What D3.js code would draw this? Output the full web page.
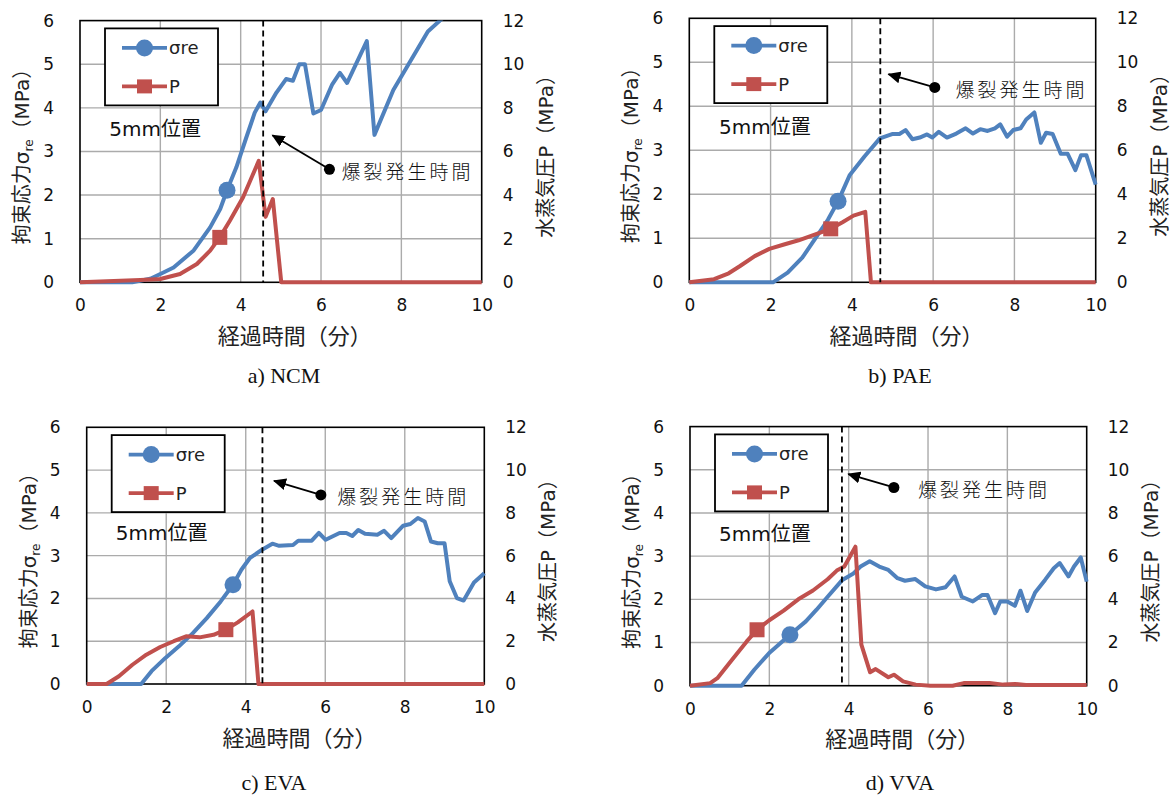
<!DOCTYPE html>
<html>
<head>
<meta charset="utf-8">
<script src="https://cdn.jsdelivr.net/npm/d3@7"></script>
<style>
  body { margin: 0; background: #fff; }
  svg { display: block; font-family: "DejaVu Sans", "Noto Sans CJK JP", sans-serif; }
</style>
</head>
<body>
<svg id="chart" width="1176" height="796"></svg>
<script>
// axis ticks
const timeTicks = [0, 2, 4, 6, 8, 10];
const stressTicks = [0, 1, 2, 3, 4, 5, 6];
const pressureTicks = [0, 2, 4, 6, 8, 10, 12];

// a) NCM  [time (min), value]
const ncmSigma = [[0,0],[1.3,0],[1.75,0.08],[2.0,0.19],[2.33,0.34],[2.83,0.73],[3.24,1.26],[3.49,1.68],[3.66,2.11],[3.89,2.63],[4.14,3.32],[4.35,3.89],[4.49,4.12],[4.62,3.92],[4.89,4.35],[5.13,4.66],[5.3,4.62],[5.46,5.0],[5.6,5.0],[5.81,3.87],[6.0,3.95],[6.28,4.54],[6.47,4.8],[6.65,4.57],[7.14,5.53],[7.33,3.38],[7.8,4.41],[8.66,5.75],[8.96,6.0],[9.2,6.2]];
const ncmP = [[0,0],[0.84,0.06],[1.5,0.1],[2.0,0.15],[2.49,0.38],[2.91,0.84],[3.24,1.45],[3.48,2.06],[3.73,2.82],[4.06,3.9],[4.45,5.57],[4.62,3.0],[4.8,3.82],[5.01,0],[10,0]];

// b) PAE
const paeSigma = [[0,0],[2.06,0],[2.42,0.22],[2.78,0.56],[3.14,1.05],[3.41,1.42],[3.66,1.84],[3.95,2.44],[4.31,2.86],[4.69,3.27],[4.99,3.37],[5.17,3.37],[5.32,3.46],[5.49,3.25],[5.67,3.29],[5.85,3.36],[5.98,3.29],[6.14,3.42],[6.34,3.29],[6.57,3.38],[6.8,3.5],[6.98,3.38],[7.16,3.48],[7.34,3.44],[7.52,3.5],[7.65,3.59],[7.82,3.31],[7.97,3.46],[8.15,3.5],[8.29,3.7],[8.49,3.86],[8.65,3.17],[8.78,3.4],[8.94,3.37],[9.14,2.92],[9.31,2.92],[9.5,2.55],[9.64,2.89],[9.77,2.89],[10,2.22]];
const paeP = [[0,0],[0.61,0.14],[0.97,0.41],[1.25,0.74],[1.61,1.19],[1.97,1.52],[2.33,1.72],[2.69,1.91],[3.05,2.14],[3.48,2.43],[3.77,2.73],[4.04,3.03],[4.33,3.2],[4.47,0],[10,0]];

// c) EVA
const evaSigma = [[0,0],[1.37,0],[1.63,0.3],[1.98,0.61],[2.32,0.88],[2.67,1.19],[3.02,1.54],[3.37,1.93],[3.68,2.32],[3.89,2.67],[4.1,2.94],[4.41,3.14],[4.67,3.28],[4.84,3.23],[5.19,3.25],[5.32,3.35],[5.66,3.35],[5.84,3.53],[6.01,3.37],[6.36,3.53],[6.53,3.53],[6.68,3.46],[6.83,3.6],[7.0,3.51],[7.31,3.49],[7.48,3.58],[7.66,3.41],[7.96,3.7],[8.14,3.74],[8.33,3.88],[8.5,3.8],[8.66,3.33],[8.83,3.29],[9.0,3.29],[9.13,2.4],[9.31,2.01],[9.48,1.95],[9.74,2.37],[10,2.59]];
const evaP = [[0,0],[0.5,0],[0.81,0.36],[1.15,0.9],[1.5,1.37],[1.85,1.73],[2.19,2.0],[2.5,2.23],[2.84,2.18],[3.19,2.3],[3.5,2.54],[3.8,2.88],[4.17,3.39],[4.32,0],[10,0]];

// d) VVA
const vvaSigma = [[0,0],[1.3,0],[1.62,0.37],[1.99,0.75],[2.52,1.18],[2.92,1.49],[3.19,1.76],[3.47,2.06],[3.84,2.45],[4.12,2.6],[4.3,2.76],[4.53,2.88],[4.77,2.76],[5.0,2.68],[5.23,2.49],[5.42,2.43],[5.68,2.47],[5.93,2.3],[6.2,2.23],[6.44,2.28],[6.67,2.53],[6.85,2.06],[7.13,1.95],[7.36,2.1],[7.5,2.1],[7.69,1.68],[7.82,1.95],[8.0,1.95],[8.19,1.85],[8.33,2.2],[8.5,1.73],[8.7,2.16],[8.95,2.45],[9.17,2.72],[9.32,2.84],[9.54,2.53],[9.68,2.76],[9.85,2.97],[10,2.41]];
const vvaP = [[0,0],[0.51,0.12],[0.69,0.35],[1.06,1.2],[1.43,2.05],[1.69,2.59],[1.99,3.02],[2.36,3.48],[2.73,4.0],[3.1,4.41],[3.47,4.93],[3.7,5.33],[3.89,5.52],[4.17,6.44],[4.32,1.9],[4.54,0.62],[4.68,0.77],[5.0,0.39],[5.14,0.51],[5.37,0.2],[5.69,0.05],[6.06,0],[6.62,0],[6.9,0.12],[7.55,0.12],[7.9,0.05],[8.2,0.08],[8.47,0.03],[10,0.03]];

// single marker point on each series [time, value]
const sigmaMarks = [[3.66,2.11],[3.66,1.84],[3.68,2.32],[2.52,1.18]];
const pMarks = [[3.48,2.06],[3.48,2.43],[3.5,2.54],[1.69,2.59]];

// burst time (min)
const burstTimes = [4.56, 4.70, 4.42, 3.83];
// annotation: dot t, dot σ, arrow tip t, arrow tip σ, text start t
const notes = [[6.21,2.59,4.79,3.37,6.51],[6.04,4.43,4.90,4.73,6.55],[5.89,4.42,4.71,4.75,6.30],[5.14,4.59,3.99,4.90,5.75]];
const captions = ["a) NCM", "b) PAE", "c) EVA", "d) VVA"];

const BLUE = "#4f81bd", RED = "#c0504d";

// plot rectangles and caption placement
const layout = [
  {l: 80,    t: 20.6,  r: 481.7,  b: 282.3, capX: 284, capY: 383},
  {l: 689.3, t: 18.3,  r: 1095.7, b: 282.3, capX: 900, capY: 383},
  {l: 86.7,  t: 427.3, r: 484.3,  b: 684,   capX: 274, capY: 790},
  {l: 690,   t: 426.6, r: 1086.7, b: 685.7, capX: 900, capY: 790}
];
const series = [[ncmSigma, ncmP], [paeSigma, paeP], [evaSigma, evaP], [vvaSigma, vvaP]];

const svg = d3.select("#chart");

svg.append("defs").append("marker")
    .attr("id", "arrow")
    .attr("markerUnits", "userSpaceOnUse")
    .attr("markerWidth", 14).attr("markerHeight", 12)
    .attr("refX", 12).attr("refY", 6)
    .attr("orient", "auto")
  .append("path")
    .attr("d", "M0,0 L13,6 L0,12 Z")
    .attr("fill", "#000");

layout.forEach((box, i) => drawPanel(box, i));

function drawPanel(box, i) {
    const x = d3.scaleLinear().domain([0, 10]).range([box.l, box.r]);
    const yL = d3.scaleLinear().domain([0, 6]).range([box.b, box.t]);
    const yR = d3.scaleLinear().domain([0, 12]).range([box.b, box.t]);
    const g = svg.append("g");

    // grid lines
    g.append("g").selectAll("line")
        .data(stressTicks.slice(1, -1))
        .enter().append("line")
        .attr("x1", box.l).attr("x2", box.r)
        .attr("y1", d => yL(d)).attr("y2", d => yL(d))
        .style("stroke", "#ababab").style("stroke-width", 1.4);
    g.append("g").selectAll("line")
        .data(timeTicks.slice(1, -1))
        .enter().append("line")
        .attr("x1", d => x(d)).attr("x2", d => x(d))
        .attr("y1", box.t).attr("y2", box.b)
        .style("stroke", "#ababab").style("stroke-width", 1.4);

    g.append("rect")
        .attr("x", box.l).attr("y", box.t)
        .attr("width", box.r - box.l).attr("height", box.b - box.t)
        .style("fill", "none").style("stroke", "#000").style("stroke-width", 1.6);

    // clip for data lines
    const clipId = "clip" + i;
    svg.select("defs").append("clipPath").attr("id", clipId)
      .append("rect")
        .attr("x", box.l - 2).attr("y", box.t)
        .attr("width", box.r - box.l + 4).attr("height", box.b - box.t + 3);

    const lineL = d3.line().x(d => x(d[0])).y(d => yL(d[1]));
    const lineR = d3.line().x(d => x(d[0])).y(d => yR(d[1]));
    const data = g.append("g").attr("clip-path", `url(#${clipId})`);

    data.append("path")
        .datum(series[i][0])
        .attr("d", lineL)
        .style("fill", "none").style("stroke", BLUE)
        .style("stroke-width", 4).style("stroke-linejoin", "round");
    data.append("circle")
        .attr("cx", x(sigmaMarks[i][0])).attr("cy", yL(sigmaMarks[i][1]))
        .attr("r", 8.5).style("fill", BLUE);

    data.append("path")
        .datum(series[i][1])
        .attr("d", lineR)
        .style("fill", "none").style("stroke", RED)
        .style("stroke-width", 4).style("stroke-linejoin", "round");
    data.append("rect")
        .attr("x", x(pMarks[i][0]) - 7.5).attr("y", yR(pMarks[i][1]) - 7.5)
        .attr("width", 15).attr("height", 15).style("fill", RED);

    // burst time
    g.append("line")
        .attr("x1", x(burstTimes[i])).attr("x2", x(burstTimes[i]))
        .attr("y1", box.t).attr("y2", box.b)
        .style("stroke", "#000").style("stroke-width", 1.8)
        .style("stroke-dasharray", "6,4");

    // annotation
    const n = notes[i];
    g.append("line")
        .attr("x1", x(n[0])).attr("y1", yL(n[1]))
        .attr("x2", x(n[2])).attr("y2", yL(n[3]))
        .attr("marker-end", "url(#arrow)")
        .style("stroke", "#000").style("stroke-width", 1.8);
    g.append("circle")
        .attr("cx", x(n[0])).attr("cy", yL(n[1]))
        .attr("r", 5.5).style("fill", "#000");
    g.append("text")
        .attr("x", x(n[4])).attr("y", yL(n[1]) + 1)
        .attr("dominant-baseline", "central")
        .style("font-family", "'Noto Sans CJK JP'")
        .style("font-size", "19px").style("font-weight", 300)
        .style("letter-spacing", "3px").style("fill", "#111")
        .text("爆裂発生時間");

    // 5mm position label
    g.append("text")
        .attr("x", x(0.73)).attr("y", yL(3.52))
        .attr("dominant-baseline", "central")
        .style("font-size", "20px").style("fill", "#111")
        .text("5mm位置");

    // legend
    const lg = g.append("g").attr("transform", `translate(${box.l + 25},${box.t + 7.8})`);
    lg.append("rect").attr("width", 113).attr("height", 77)
        .style("fill", "#fff").style("stroke", "#000").style("stroke-width", 1.8);
    const rows = [{c: BLUE, label: "σre", y: 19.5, shape: "circle"}, {c: RED, label: "P", y: 58, shape: "square"}];
    rows.forEach(row => {
        lg.append("line").attr("x1", 17).attr("x2", 62).attr("y1", row.y).attr("y2", row.y)
            .style("stroke", row.c).style("stroke-width", 3.6);
        if (row.shape === "circle") {
            lg.append("circle").attr("cx", 39.5).attr("cy", row.y).attr("r", 8.5).style("fill", row.c);
        } else {
            lg.append("rect").attr("x", 32).attr("y", row.y - 7).attr("width", 15).attr("height", 14).style("fill", row.c);
        }
        lg.append("text").attr("x", 64).attr("y", row.y)
            .attr("dominant-baseline", "central")
            .style("font-size", "18px").style("fill", "#222")
            .text(row.label);
    });

    // axes (labels only)
    const fmt = d3.format("d");
    const axB = g.append("g").attr("transform", `translate(0,${box.b})`)
        .call(d3.axisBottom(x).tickValues(timeTicks).tickFormat(fmt).tickSize(0).tickPadding(17));
    const axL = g.append("g").attr("transform", `translate(${box.l},0)`)
        .call(d3.axisLeft(yL).tickValues(stressTicks).tickFormat(fmt).tickSize(0).tickPadding(26));
    const axR = g.append("g").attr("transform", `translate(${box.r},0)`)
        .call(d3.axisRight(yR).tickValues(pressureTicks).tickFormat(fmt).tickSize(0).tickPadding(21));
    [axB, axL, axR].forEach(ax => {
        ax.select(".domain").remove();
        ax.selectAll("text")
            .style("font-family", "'DejaVu Sans'")
            .style("font-size", "17px").style("fill", "#111");
    });

    // axis titles
    const cx = (box.l + box.r) / 2, cy = (box.t + box.b) / 2;
    g.append("text")
        .attr("x", cx + 14).attr("y", box.b + 54)
        .attr("text-anchor", "middle").attr("dominant-baseline", "central")
        .style("font-size", "22px").style("fill", "#222")
        .text("経過時間（分）");

    const yt = g.append("text")
        .attr("transform", `translate(${box.l - 58},${cy}) rotate(-90)`)
        .attr("y", 7)
        .attr("text-anchor", "middle")
        .style("font-size", "20px").style("fill", "#222");
    yt.append("tspan").text("拘束応力σ");
    yt.append("tspan").attr("dy", 4).style("font-size", "12px").text("re");
    yt.append("tspan").attr("dy", -4).text("（MPa）");

    g.append("text")
        .attr("transform", `translate(${box.r + 64},${cy}) rotate(-90)`)
        .attr("y", 7)
        .attr("text-anchor", "middle")
        .style("font-size", "20px").style("fill", "#222")
        .text("水蒸気圧P（MPa）");

    // caption
    svg.append("text")
        .attr("x", box.capX).attr("y", box.capY)
        .attr("text-anchor", "middle")
        .style("font-family", "'Liberation Serif', serif")
        .style("font-size", "22px").style("fill", "#111")
        .text(captions[i]);
}
</script>
</body>
</html>
